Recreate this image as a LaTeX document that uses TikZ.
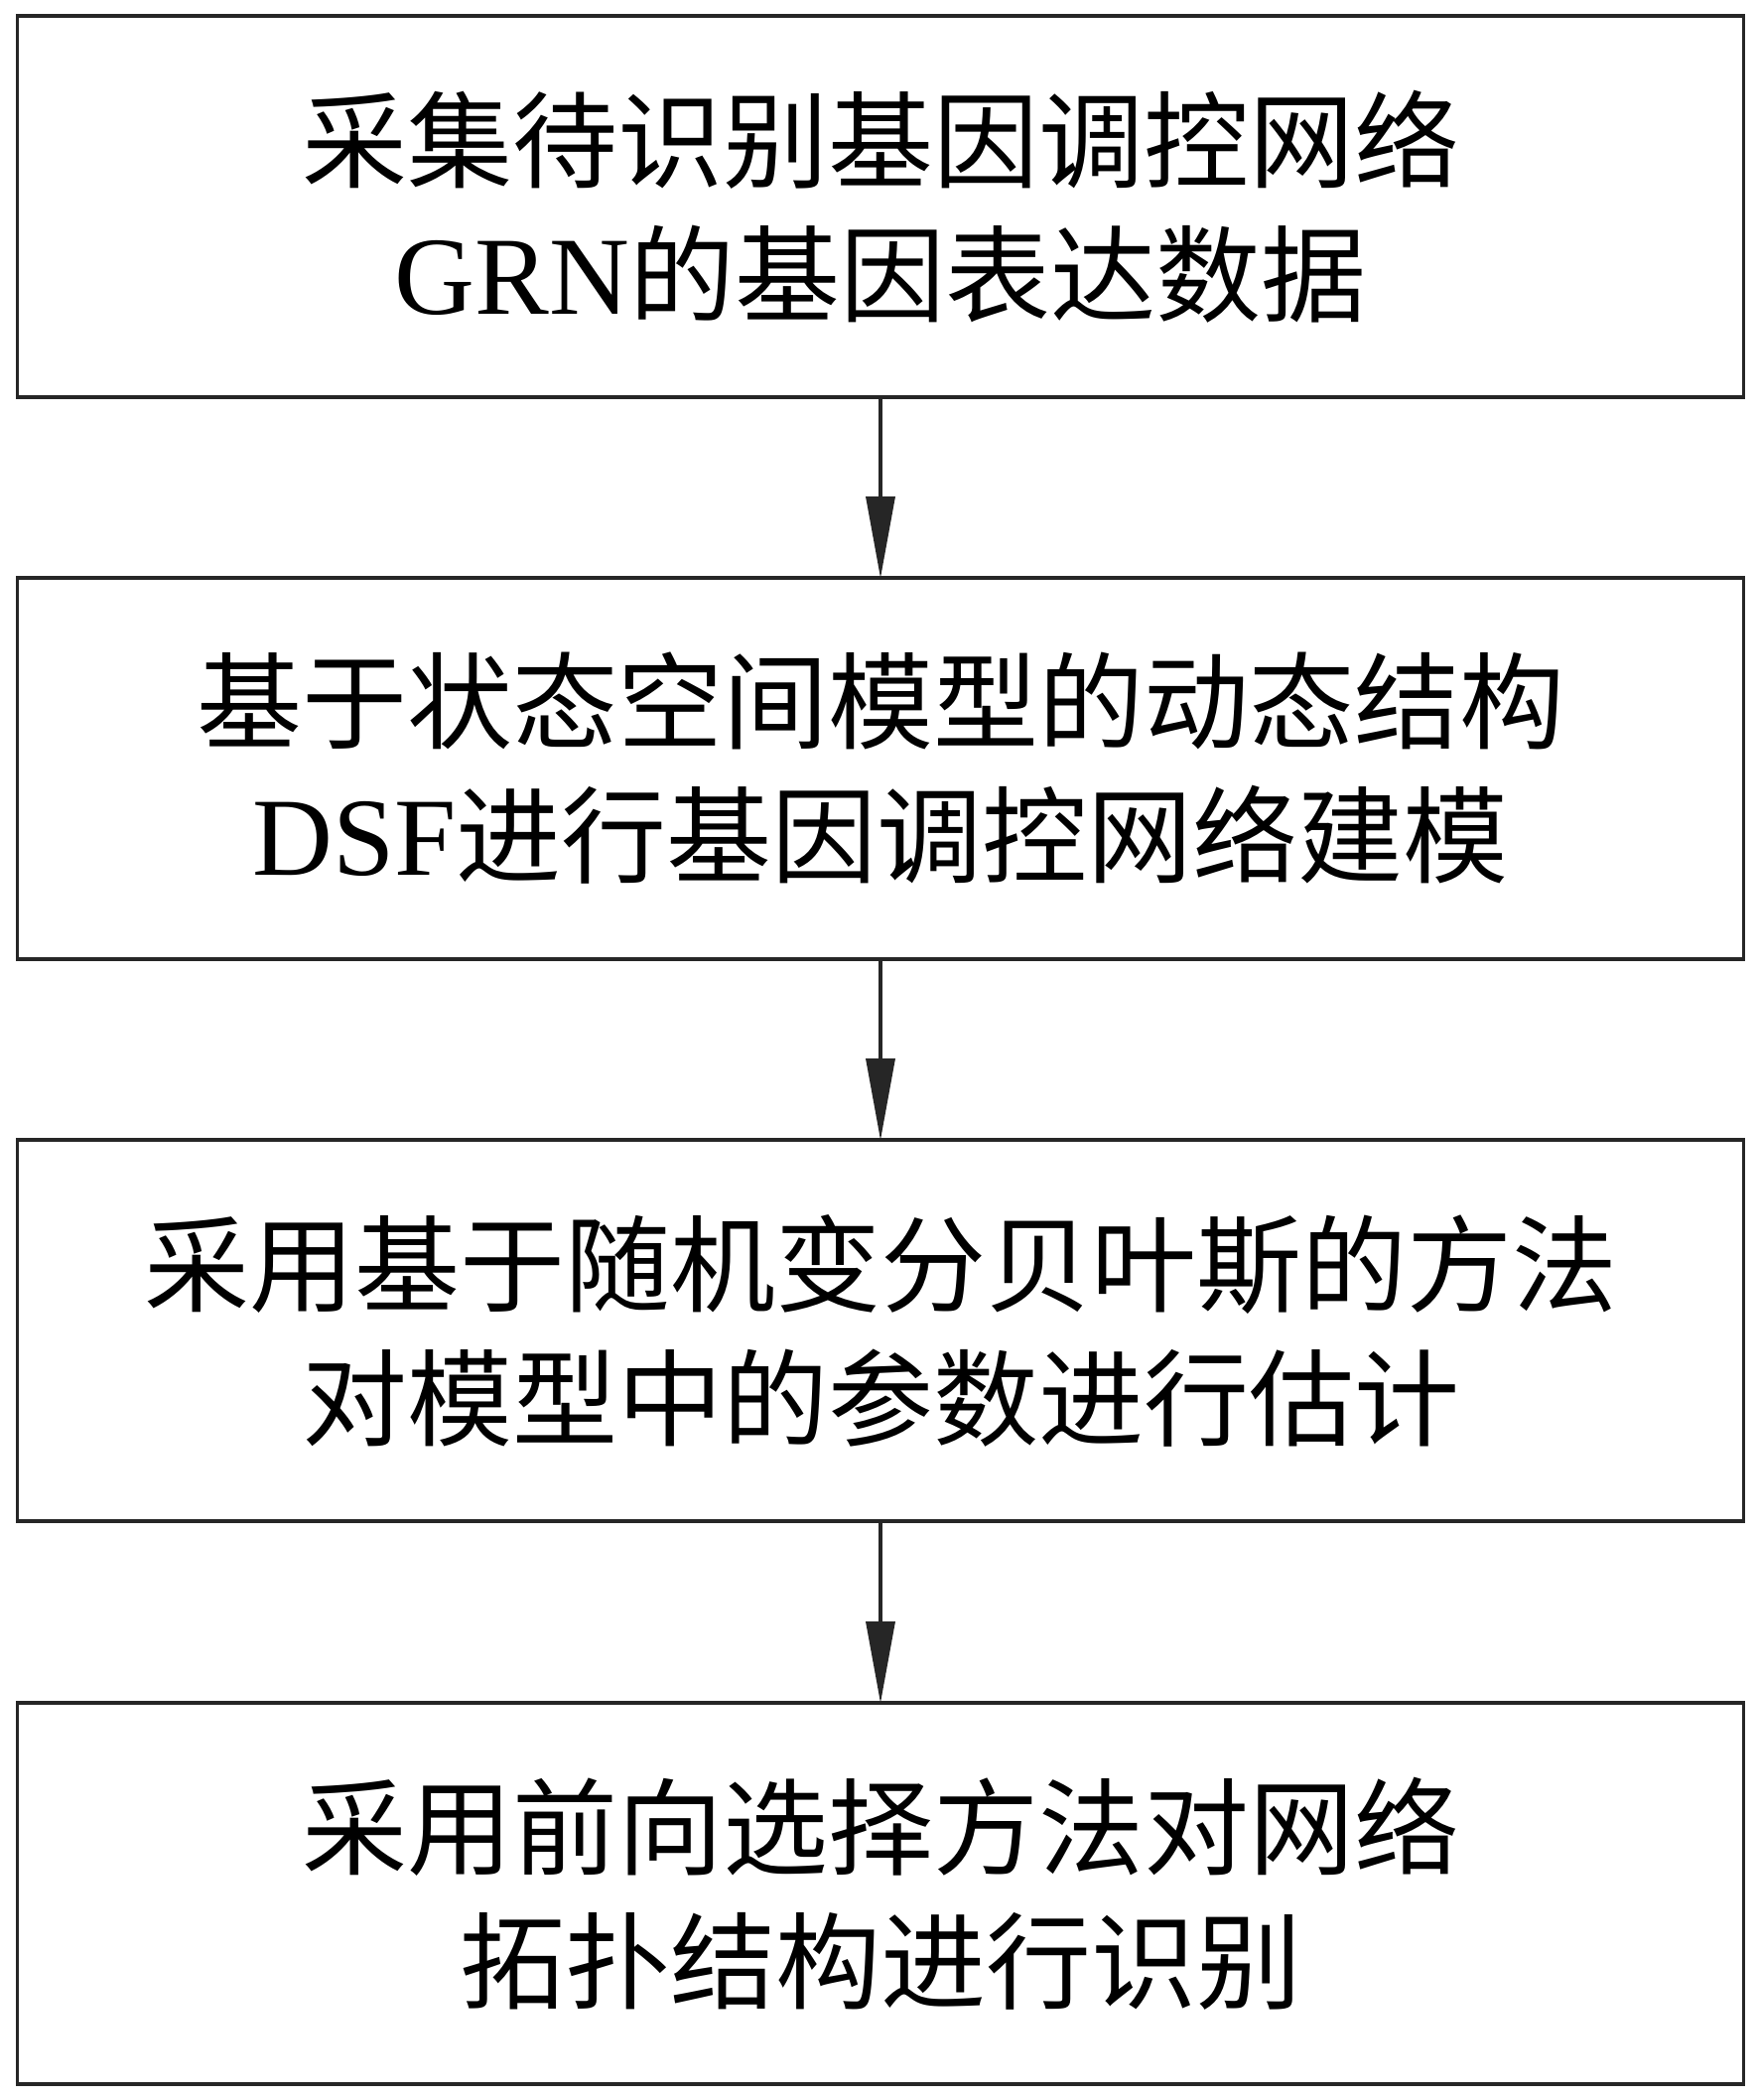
\documentclass[tikz,border=0pt]{standalone}
\usepackage{fontspec}
\setmainfont{Liberation Serif}
\newfontfamily\cjk{Noto Sans CJK SC}
\usetikzlibrary{arrows.meta}
\newcommand{\latn}[1]{{\fontsize{56pt}{67.5pt}\selectfont #1}}
\begin{document}
\begin{tikzpicture}[x=0.5pt,y=-0.5pt,
  stepbox/.style={draw=black!85, line width=1.8pt, minimum width=869.5pt, minimum height=192pt,
    inner sep=0pt, align=center, font=\fontsize{53pt}{67.5pt}\selectfont},
  flow/.style={draw=black!85, line width=1.6pt, -{Triangle[length=41pt,width=14.5pt]}, shorten >=-1pt}]
\useasboundingbox (0,0) rectangle (1771,2115);
\fill[white] (0,0) rectangle (1771,2115);
\node[stepbox] (b1) at (887,208) {{\cjk 采集待识别基因调控网络}\\\latn{GRN}{\cjk 的基因表达数据}};
\node[stepbox] (b2) at (887,774) {{\cjk 基于状态空间模型的动态结构}\\\latn{DSF}{\cjk 进行基因调控网络建模}};
\node[stepbox] (b3) at (887,1340) {{\cjk 采用基于随机变分贝叶斯的方法}\\{\cjk 对模型中的参数进行估计}};
\node[stepbox] (b4) at (887,1907) {{\cjk 采用前向选择方法对网络}\\{\cjk 拓扑结构进行识别}};
\draw[flow] (b1) -- (b2);
\draw[flow] (b2) -- (b3);
\draw[flow] (b3) -- (b4);
\end{tikzpicture}
\end{document}
